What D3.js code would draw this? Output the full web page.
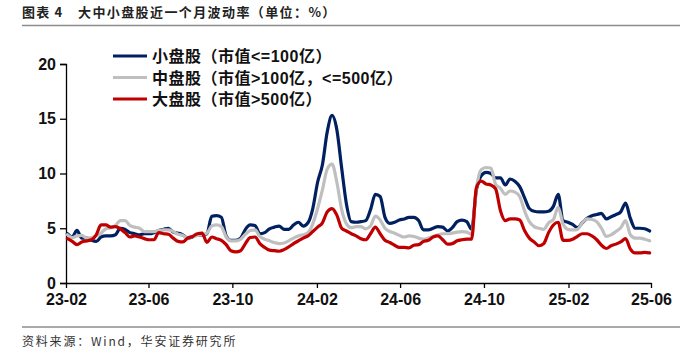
<!DOCTYPE html>
<html><head><meta charset="utf-8">
<script src="https://cdn.jsdelivr.net/npm/d3@7"></script>
<style>
html,body{margin:0;padding:0;background:#fff;}
svg{display:block;}
</style></head>
<body>
<svg id="chart" width="700" height="359"></svg>
<script>
// ---------------- data ----------------
const dates = [
"2023-02-03","2023-02-10","2023-02-17","2023-02-24","2023-03-03","2023-03-10","2023-03-17","2023-03-24","2023-03-31","2023-04-07",
"2023-04-14","2023-04-21","2023-04-28","2023-05-05","2023-05-12","2023-05-19","2023-05-26","2023-06-02","2023-06-09","2023-06-16",
"2023-06-23","2023-06-30","2023-07-07","2023-07-14","2023-07-21","2023-07-28","2023-08-04","2023-08-11","2023-08-18","2023-08-25",
"2023-09-01","2023-09-08","2023-09-15","2023-09-22","2023-09-29","2023-10-06","2023-10-13","2023-10-20","2023-10-27","2023-11-03",
"2023-11-10","2023-11-17","2023-11-24","2023-12-01","2023-12-08","2023-12-15","2023-12-22","2023-12-29","2024-01-05","2024-01-12",
"2024-01-19","2024-01-26","2024-02-02","2024-02-09","2024-02-16","2024-02-23","2024-03-01","2024-03-08","2024-03-15","2024-03-22",
"2024-03-29","2024-04-05","2024-04-12","2024-04-19","2024-04-26","2024-05-03","2024-05-10","2024-05-17","2024-05-24","2024-05-31",
"2024-06-07","2024-06-14","2024-06-21","2024-06-28","2024-07-05","2024-07-12","2024-07-19","2024-07-26","2024-08-02","2024-08-09",
"2024-08-16","2024-08-23","2024-08-30","2024-09-06","2024-09-13","2024-09-20","2024-09-27","2024-10-04","2024-10-11","2024-10-18",
"2024-10-25","2024-11-01","2024-11-08","2024-11-15","2024-11-22","2024-11-29","2024-12-06","2024-12-13","2024-12-20","2024-12-27",
"2025-01-03","2025-01-10","2025-01-17","2025-01-24","2025-01-31","2025-02-07","2025-02-14","2025-02-21","2025-02-28","2025-03-07",
"2025-03-14","2025-03-21","2025-03-28","2025-04-04","2025-04-11","2025-04-18","2025-04-25","2025-05-02","2025-05-09","2025-05-16",
"2025-05-23","2025-05-30"
];

// 小盘股（市值<=100亿）
const smallCap = [
4.5,4.2,4.8,4.1,4.1,3.9,3.8,4.2,4.3,4.3,
4.4,5.0,4.9,4.6,4.5,4.4,4.5,4.5,4.6,4.8,
4.9,5.0,4.65,4.55,4.4,4.1,4.2,4.4,4.35,4.5,
6.1,6.15,6.0,4.3,3.9,3.9,4.1,4.9,5.3,5.25,
4.5,4.6,4.95,5.1,5.2,4.9,4.9,5.3,5.55,5.2,
5.5,6.8,9.2,10.8,13.8,15.3,14.0,10.5,7.2,5.6,
5.55,5.6,5.7,6.7,8.1,7.9,6.0,5.45,5.55,5.75,
5.85,6.0,6.0,5.7,4.85,4.85,5.0,5.15,5.1,4.75,
5.05,5.6,5.75,5.6,4.9,8.5,9.8,10.1,10.0,9.6,
9.6,8.95,9.5,9.3,8.8,7.8,6.8,6.55,6.5,6.5,
6.55,7.0,8.1,5.7,5.55,5.35,5.05,5.5,5.9,6.15,
6.25,6.35,5.85,6.05,6.25,6.5,7.3,5.9,5.0,5.0,
4.95,4.75
];

// 中盘股（市值>100亿，<=500亿）
const midCap = [
4.4,4.15,4.3,4.35,4.1,4.15,4.3,4.55,4.95,5.05,
5.25,5.7,5.7,5.25,5.1,5.0,4.7,4.7,4.7,4.8,
4.85,4.85,4.7,4.45,4.35,4.1,4.25,4.35,4.4,4.55,
5.2,5.3,5.15,4.2,3.85,3.85,4.0,4.45,4.8,4.85,
4.25,4.0,3.85,3.7,3.6,3.65,3.85,4.1,4.3,4.4,
4.6,5.4,6.8,8.5,10.4,10.85,9.2,6.7,5.4,5.05,
5.15,5.15,4.95,5.2,6.1,5.75,5.0,4.7,4.55,4.35,
4.2,4.3,4.25,4.1,4.0,4.1,4.25,4.4,4.5,4.5,
4.55,4.65,4.7,4.65,4.45,8.6,10.35,10.55,10.5,9.0,
8.65,8.1,8.4,8.3,7.9,6.6,5.6,5.15,5.0,4.9,
5.5,5.8,6.9,5.4,4.9,4.85,4.9,5.5,5.85,5.8,
5.6,5.0,4.25,4.4,4.7,5.05,5.7,4.4,4.1,4.1,
4.0,3.85
];

// 大盘股（市值>500亿）
const largeCap = [
4.05,3.8,3.5,3.75,3.85,3.95,4.4,5.3,5.3,5.1,
5.15,4.95,4.6,4.2,4.3,4.2,4.05,3.95,3.95,4.6,
4.5,4.45,4.1,3.8,3.75,4.1,4.25,4.5,4.55,3.7,
4.2,4.05,3.9,3.5,2.95,2.85,2.95,3.6,4.15,4.2,
3.6,3.25,3.0,2.95,2.9,3.05,3.3,3.6,3.85,4.1,
4.3,4.7,5.1,5.5,6.5,6.8,6.2,5.0,4.75,4.5,
4.3,4.05,3.95,4.5,5.1,4.5,3.9,3.7,3.45,3.25,
3.25,3.2,3.45,3.5,3.8,3.9,4.2,4.3,3.95,3.55,
3.6,3.85,3.95,4.0,4.0,8.7,9.3,9.05,8.95,8.6,
6.6,5.7,5.85,5.85,5.75,4.8,4.1,3.75,3.4,3.6,
4.6,5.3,5.55,3.9,3.9,4.0,4.25,4.5,4.5,4.3,
3.95,3.45,3.15,3.4,3.55,3.75,4.05,3.1,2.75,2.75,
2.8,2.75
];

const seriesNames = ["小盘股（市值<=100亿）", "中盘股（市值>100亿，<=500亿）", "大盘股（市值>500亿）"];
const seriesColors = ["#002060", "#BFBFBF", "#C00000"];
const xTickLabels = ["23-02","23-06","23-10","24-02","24-06","24-10","25-02","25-06"];
const yTickValues = [0, 5, 10, 15, 20];
const titleText = "图表 4";
const titleMain = "大中小盘股近一个月波动率（单位：%）";
const sourceText = "资料来源：Wind，华安证券研究所";

// ---------------- drawing ----------------
const svg = d3.select("#chart");
const parseDate = d3.timeParse("%Y-%m-%d");
const parseTick = d3.timeParse("%y-%m");
const dateVals = dates.map(parseDate);

const plot = {left: 66, right: 651, top: 64, bottom: 283};

const x = d3.scaleTime()
  .domain([parseDate("2023-02-01"), parseDate("2025-06-01")])
  .range([plot.left, plot.right]);
const y = d3.scaleLinear().domain([0, 20]).range([plot.bottom, plot.top]);

// title
svg.append("text").attr("x", 22).attr("y", 17)
  .attr("font-family", "'Noto Sans CJK SC', sans-serif").attr("font-weight", "bold")
  .attr("font-size", 13).attr("letter-spacing", 1.2).attr("fill", "#222")
  .text(titleText);
svg.append("text").attr("x", 78).attr("y", 17)
  .attr("font-family", "'Noto Sans CJK SC', sans-serif").attr("font-weight", "bold")
  .attr("font-size", 13).attr("letter-spacing", 1.4).attr("fill", "#222")
  .text(titleMain);
svg.append("line").attr("x1", 22).attr("x2", 680).attr("y1", 25.5).attr("y2", 25.5)
  .attr("stroke", "#8c8c8c").attr("stroke-width", 1.5);

// source
svg.append("line").attr("x1", 22).attr("x2", 680).attr("y1", 327).attr("y2", 327)
  .attr("stroke", "#8c8c8c").attr("stroke-width", 1.5);
svg.append("text").attr("x", 22).attr("y", 346)
  .attr("font-family", "'Noto Sans CJK SC', sans-serif")
  .attr("font-size", 12).attr("letter-spacing", 1.8).attr("fill", "#333")
  .text(sourceText);

// axes
const yAxis = d3.axisLeft(y).tickValues(yTickValues).tickSize(6).tickPadding(4);
const gy = svg.append("g").attr("transform", `translate(${plot.left},0)`).call(yAxis);
gy.select(".domain").attr("stroke", "#000").attr("stroke-width", 1.3);
gy.selectAll(".tick line").attr("stroke", "#000").attr("stroke-width", 1.3);
gy.selectAll(".tick text").attr("font-family", "'Liberation Sans', Arial, sans-serif")
  .attr("font-weight", "bold").attr("font-size", 16).attr("fill", "#111");

const xAxis = d3.axisBottom(x).tickValues(xTickLabels.map(parseTick))
  .tickFormat(d3.timeFormat("%y-%m")).tickSize(5).tickSizeOuter(0).tickPadding(6);
const gx = svg.append("g").attr("transform", `translate(0,${plot.bottom})`).call(xAxis);
gx.select(".domain").attr("stroke", "#000").attr("stroke-width", 1.3);
gx.selectAll(".tick line").attr("stroke", "#000").attr("stroke-width", 1.3);
gx.selectAll(".tick text").attr("font-family", "'Liberation Sans', Arial, sans-serif")
  .attr("font-weight", "bold").attr("font-size", 16).attr("fill", "#111");

// lines
const allSeries = [smallCap, midCap, largeCap];
const line = d3.line()
  .x((d, i) => x(dateVals[i]))
  .y(d => y(d))
  .curve(d3.curveMonotoneX);
allSeries.forEach((vals, k) => {
  svg.append("path").datum(vals)
    .attr("d", line)
    .attr("fill", "none")
    .attr("stroke", seriesColors[k])
    .attr("stroke-width", 3.2)
    .attr("stroke-linejoin", "round")
    .attr("stroke-linecap", "round");
});

// legend
const legendRows = [56, 77.5, 99];
seriesNames.forEach((name, k) => {
  const cy = legendRows[k];
  svg.append("line").attr("x1", 113).attr("x2", 147).attr("y1", cy).attr("y2", cy)
    .attr("stroke", seriesColors[k]).attr("stroke-width", 3.2);
  svg.append("text").attr("x", 152).attr("y", cy + 6)
    .attr("font-family", "'Liberation Sans', 'Noto Sans CJK SC', sans-serif")
    .attr("font-weight", "bold")
    .attr("font-size", 16).attr("letter-spacing", 0.5).attr("fill", "#111")
    .text(name);
});
</script>
</body></html>
